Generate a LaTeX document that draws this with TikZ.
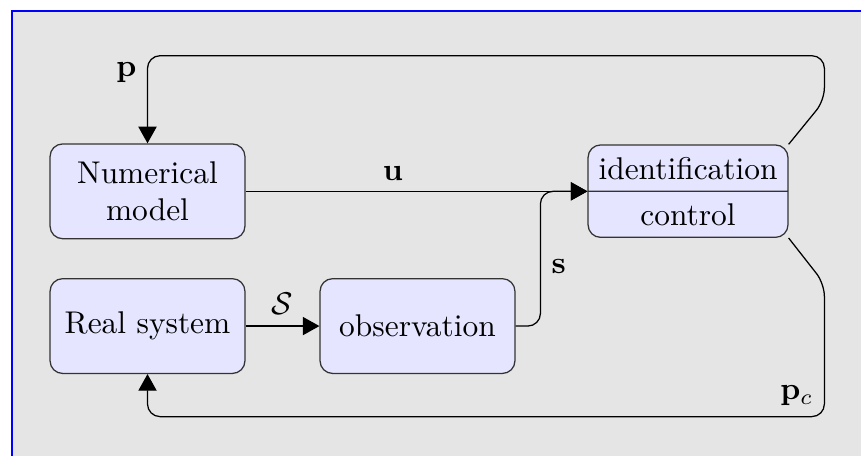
\documentclass[tikz,border=0pt]{standalone}
\usetikzlibrary{arrows.meta,shapes.multipart,calc}

\begin{document}
\begin{tikzpicture}[
		block/.style={draw=black!80, rectangle, rounded corners, fill=blue!10, minimum width=2.18cm, minimum height=1.06cm},
		flow/.style={-{Triangle[length=5.3pt,width=5.8pt]}},
	]
				% Background
				\useasboundingbox (0,0) rectangle (9.631,-5.101);
				\fill[gray!20] (0.134,-0.123) rectangle (9.631,-5.101);
				\draw[blue, line width=0.45pt] (0.134,-5.101) -- (0.134,-0.123) -- (9.631,-0.123);

				% Model and real system
				\node[block, align=center] (model) at (1.65,-2.14) {Numerical\\model};
				\node[block] (real) at (1.65,-3.647) {Real system};

				% Observation
				\node[block] (obs) at (4.67,-3.647) {observation};
				\draw[flow] (real) -- node[above] {$\mathcal{S}$} (obs);

				% Identification / control
				\node[block, rectangle split, rectangle split parts=2, minimum width=2.19cm, minimum height=0pt, inner ysep=3.6pt, anchor=text split] (ident) at (7.696,-2.14) {identification \nodepart{two} control};
				\coordinate (join) at ($(ident.text split west)+(-0.526,0)$);
				\draw[flow] (model.east) -- node[above] {$\mathbf{u}$} (join) -- (ident.text split west);
				\draw[flow, rounded corners] (obs.east) -| node[pos=0.72, right] {$\mathbf{s}$} (join) -- (ident.text split west);

				% Feedback
				\draw[flow, rounded corners] (ident.north east) -- ++(0.4,0.49) |- ($(model.north)+(0,0.98)$) -- node[pos=0, below left, yshift=1.5pt] {$\mathbf{p}$} (model.north);
				\draw[flow, rounded corners] (ident.south east) -- ++(0.4,-0.51) |- node[pos=0.5, above left] {$\mathbf{p}_c$} ($(real.south)+(0,-0.476)$) -- (real.south);
			\end{tikzpicture}
\end{document}
